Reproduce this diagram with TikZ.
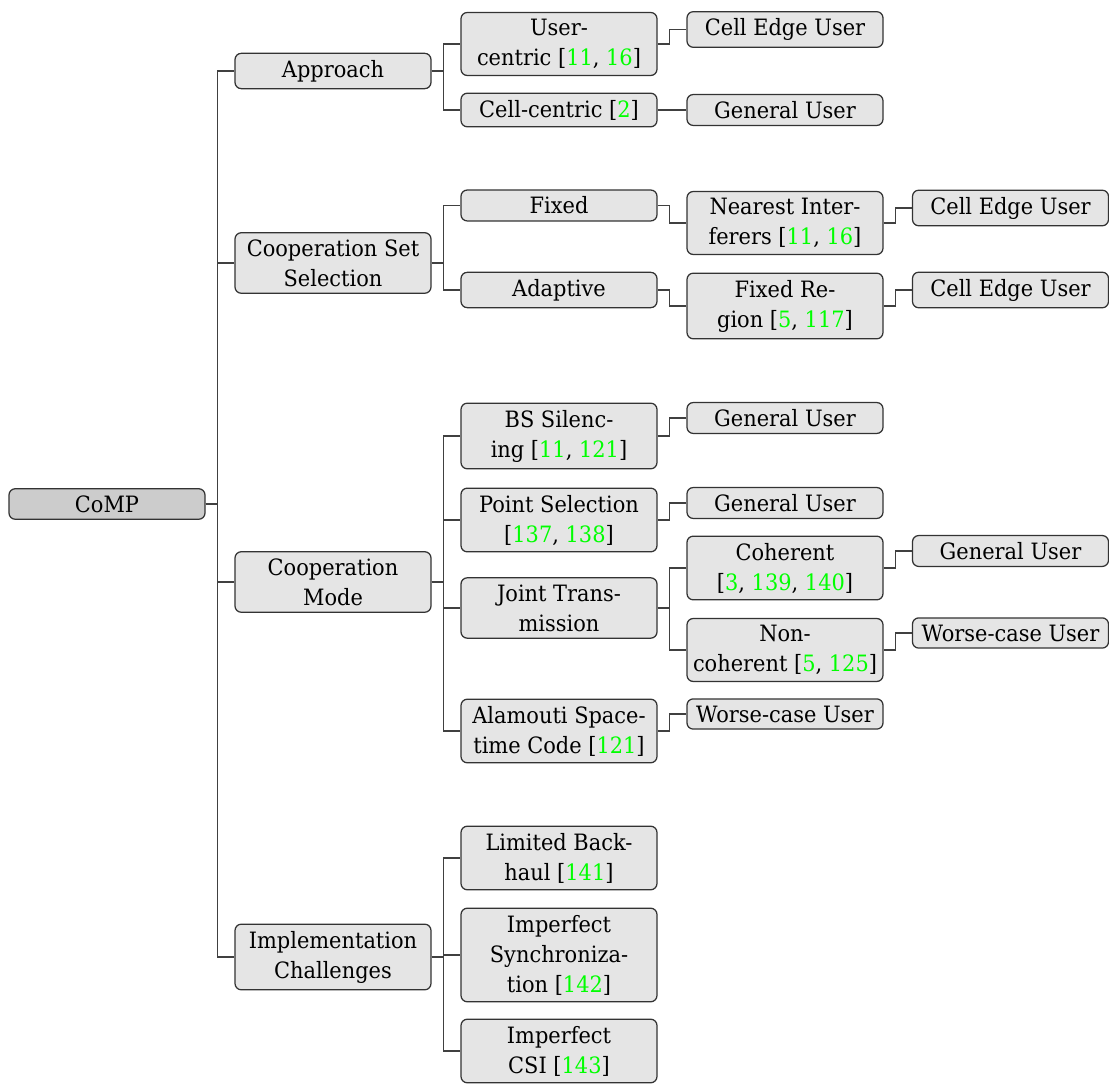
\documentclass[tikz,border=0pt]{standalone}
\usepackage{fontspec}
\setmainfont{DejaVu Serif}[FakeStretch=0.93]
\usepackage{xcolor}
\usepackage{tikz}
\newcommand{\cn}[1]{\textcolor{green}{#1}}

\begin{document}
\begin{tikzpicture}[x=0.4pt, y=-0.4pt,
  box/.style={draw=black!80, line width=0.5pt, rounded corners=2.5pt, fill=black!10,
              align=center, font=\fontsize{9}{12}\selectfont,
              minimum width=78.4pt, inner xsep=2pt, inner ysep=2.7pt},
  rootbox/.style={box, fill=black!20},
  link/.style={draw=black!75, line width=0.5pt}]
\useasboundingbox (0,0) rectangle (1109,1084);
% root
\node[rootbox] (comp) at (107,504) {CoMP};
% first level
\node[box] (appr)   at (333,71)  {Approach};
\node[box] (setsel) at (333,263) {Cooperation Set\\Selection};
\node[box] (mode)   at (333,582) {Cooperation\\Mode};
\node[box] (impl)   at (333,957) {Implementation\\Challenges};
% second level
\node[box] (user)   at (559,44)    {User-\\centric [\cn{11}, \cn{16}]};
\node[box] (cell)   at (559,110)   {Cell-centric [\cn{2}]};
\node[box] (fixed)  at (559,205.5) {Fixed};
\node[box] (adapt)  at (559,290)   {Adaptive};
\node[box] (bss)    at (559,436)   {BS Silenc-\\ing [\cn{11}, \cn{121}]};
\node[box] (ps)     at (559,520)   {Point Selection\\{}[\cn{137}, \cn{138}]};
\node[box] (jt)     at (559,608)   {Joint Trans-\\mission};
\node[box] (ala)    at (559,731)   {Alamouti Space-\\time Code [\cn{121}]};
\node[box] (lb)     at (559,858)   {Limited Back-\\haul [\cn{141}]};
\node[box] (sync)   at (559,955)   {Imperfect\\Synchroniza-\\tion [\cn{142}]};
\node[box] (csi)    at (559,1051)  {Imperfect\\CSI [\cn{143}]};
% third level
\node[box] (ceuA)   at (785,29.5) {Cell Edge User};
\node[box] (guA)    at (785,110)  {General User};
\node[box] (near)   at (785,223)  {Nearest Inter-\\ferers [\cn{11}, \cn{16}]};
\node[box] (freg)   at (785,306)  {Fixed Re-\\gion [\cn{5}, \cn{117}]};
\node[box] (guB)    at (785,418)  {General User};
\node[box] (guC)    at (785,503)  {General User};
\node[box] (coh)    at (785,568)  {Coherent\\{}[\cn{3}, \cn{139}, \cn{140}]};
\node[box] (ncoh)   at (785,650)  {Non-\\coherent [\cn{5}, \cn{125}]};
\node[box] (wcuA)   at (785,714)  {Worse-case User};
% fourth level
\node[box] (ceuB)   at (1010.5,208) {Cell Edge User};
\node[box] (ceuC)   at (1010.5,290) {Cell Edge User};
\node[box] (guD)    at (1010.5,551) {General User};
\node[box] (wcuB)   at (1010.5,633) {Worse-case User};
% forked connectors
\foreach \p/\c in {comp/appr, comp/setsel, comp/mode, comp/impl,
                   appr/user, appr/cell, setsel/fixed, setsel/adapt,
                   mode/bss, mode/ps, mode/jt, mode/ala,
                   impl/lb, impl/sync, impl/csi,
                   user/ceuA, cell/guA, fixed/near, adapt/freg,
                   bss/guB, ps/guC, jt/coh, jt/ncoh, ala/wcuA,
                   near/ceuB, freg/ceuC, coh/guD, ncoh/wcuB}
  \draw[link] (\p.east) -- ++(12,0) |- (\c.west);
\end{tikzpicture}
\end{document}
